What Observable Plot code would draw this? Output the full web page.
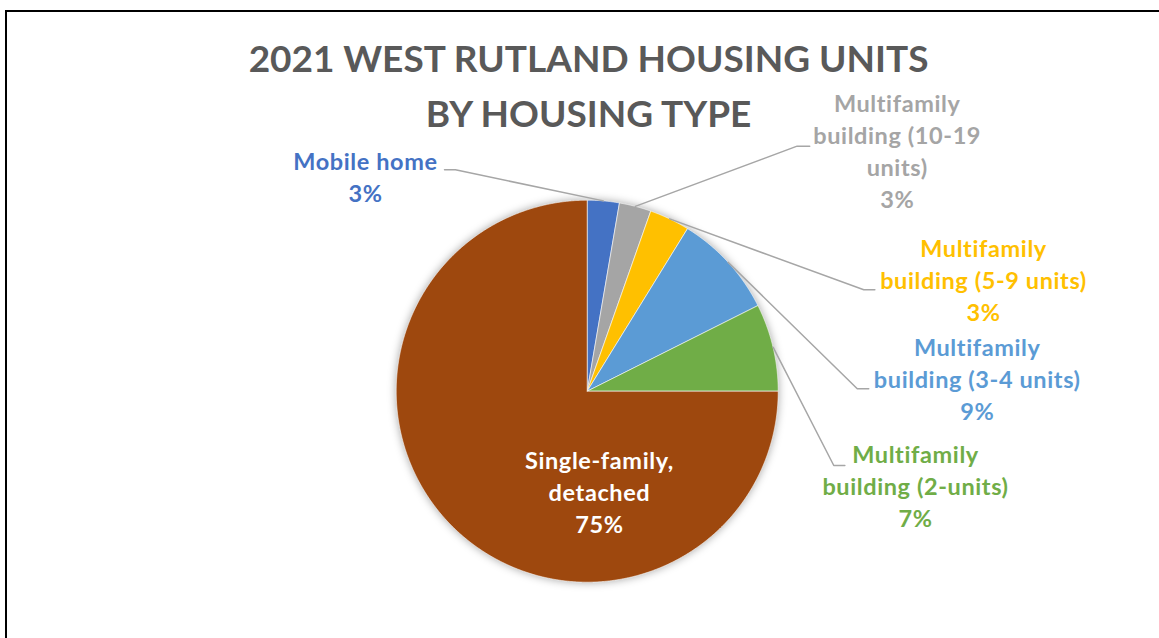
<!DOCTYPE html>
<html>
<head>
<meta charset="utf-8">
<script src="https://cdn.jsdelivr.net/npm/d3@7"></script>
<script src="https://cdn.jsdelivr.net/npm/@observablehq/plot@0.6"></script>
<style>
  html, body { margin: 0; padding: 0; background: #fff; overflow: hidden; }
  #wrap { position: relative; width: 1159px; height: 638px; }
  #border { position: absolute; left: 5px; top: 10px; width: 3000px; height: 3000px;
            border-left: 2px solid #000; border-top: 2px solid #000; pointer-events: none; }
</style>
</head>
<body>
<div id="wrap"><div id="chart"></div><div id="border"></div></div>
<script>
// ---- data ----
const title = "2021 WEST RUTLAND HOUSING UNITS\nBY HOUSING TYPE";
const categories = [
  "Mobile home",
  "Multifamily building (10-19 units)",
  "Multifamily building (5-9 units)",
  "Multifamily building (3-4 units)",
  "Multifamily building (2-units)",
  "Single-family, detached"
];
const labelText = [
  "Mobile home",
  "Multifamily\nbuilding (10-19\nunits)",
  "Multifamily\nbuilding (5-9 units)",
  "Multifamily\nbuilding (3-4 units)",
  "Multifamily\nbuilding (2-units)",
  "Single-family,\ndetached"
];
const shares = [2.7, 2.7, 3.4, 8.8, 7.4, 75.0];
const colors = ["#4472C4", "#A5A5A5", "#FFC000", "#5B9BD5", "#70AD47", "#9E480E"];

// ---- layout (in pie-radius units, y up) ----
const labelAnchor = [[-1.161, 0.993], [1.623, 0.957], [2.075, 0.370], [2.042, -0.153], [1.719, -0.712], [0.064, -0.740]];
const leaderElbow = [[-0.690, 1.159], [1.099, 1.283], [1.448, 0.531], [1.414, 0.013], [1.291, -0.389], null];
const leaderEnd   = [[-0.747, 1.159], [1.165, 1.283], [1.506, 0.531], [1.474, 0.013], [1.349, -0.389], null];

const pie = d3.pie().sort(null).value(d => d.share)(categories.map((name, i) => ({name, share: shares[i]})));

// slice polygons
const slicePts = [];
for (const a of pie) {
  const name = a.data.name;
  slicePts.push({name, x: 0, y: 0});
  const n = Math.max(2, Math.ceil((a.endAngle - a.startAngle) / (Math.PI / 720)));
  for (let k = 0; k <= n; k++) {
    const t = a.startAngle + (a.endAngle - a.startAngle) * k / n;
    slicePts.push({name, x: Math.sin(t), y: Math.cos(t)});
  }
  slicePts.push({name, x: 0, y: 0});
}

// leader lines
const leaderPts = [];
pie.forEach((a, i) => {
  if (!leaderElbow[i]) return;
  const m = (a.startAngle + a.endAngle) / 2;
  const name = a.data.name;
  leaderPts.push({name, x: Math.sin(m), y: Math.cos(m)});
  leaderPts.push({name, x: leaderElbow[i][0], y: leaderElbow[i][1]});
  leaderPts.push({name, x: leaderEnd[i][0], y: leaderEnd[i][1]});
});

const labels = pie.map((a, i) => ({
  name: a.data.name,
  text: labelText[i] + "\n" + Math.round(a.data.share) + "%",
  x: labelAnchor[i][0], y: labelAnchor[i][1]
}));
const outside = labels.filter(d => d.name !== "Single-family, detached");
const inside = labels.filter(d => d.name === "Single-family, detached");

const R = 191, cx = 586.7, cy = 390.7;
const font = "Lato, 'Open Sans', sans-serif";
const lblSize = 23.5;

const plot = Plot.plot({
  width: 1159,
  height: 638,
  margin: 0,
  style: {background: "transparent", fontFamily: font},
  x: {domain: [-1, 1], range: [cx - R, cx + R], axis: null},
  y: {domain: [-1, 1], range: [cy + R, cy - R], axis: null},
  color: {domain: categories, range: colors},
  marks: [
    Plot.line(slicePts, {x: "x", y: "y", z: "name", fill: "name", stroke: "white", strokeWidth: 0.6, curve: "linear"}),
    Plot.line(leaderPts, {x: "x", y: "y", z: "name", stroke: "#A6A6A6", strokeWidth: 1.5}),
    Plot.text(outside, {x: "x", y: "y", text: "text", fill: "name", fontSize: lblSize, fontWeight: 700,
                        lineAnchor: "bottom", lineHeight: 32 / lblSize, fontFamily: font}),
    Plot.text(inside, {x: "x", y: "y", text: "text", fill: "white", fontSize: lblSize, fontWeight: 700,
                       lineAnchor: "bottom", lineHeight: 32 / lblSize, fontFamily: font}),
    Plot.text([title], {x: [0.007], y: [1.381], text: d => d, fill: "#595959", fontSize: 37, fontWeight: 700,
                        lineAnchor: "bottom", lineHeight: 55 / 37, fontFamily: font})
  ]
});
const g = plot.querySelector('g[aria-label="line"]');
if (g) g.style.filter = "drop-shadow(0px 0px 4px rgba(0,0,0,0.35))";
plot.querySelectorAll('g[aria-label="text"]').forEach((t, i) => {
  if (i < 2) t.style.letterSpacing = "0.6px";
});
document.getElementById("chart").appendChild(plot);
</script>
</body>
</html>
